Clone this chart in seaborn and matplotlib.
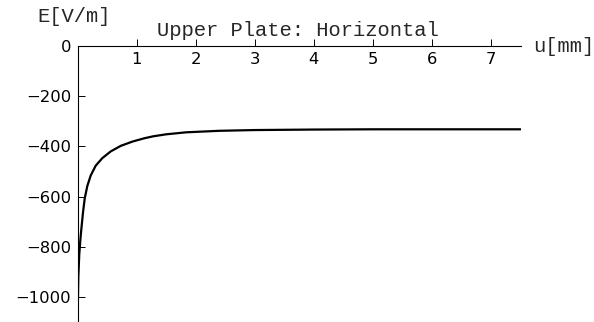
import matplotlib
matplotlib.use("Agg")
import matplotlib.pyplot as plt
from matplotlib.ticker import MultipleLocator
import seaborn as sns
import pandas as pd

# Field strength along the upper plate (horizontal component)
u_mm = [0.001, 0.005, 0.014, 0.03, 0.05, 0.064, 0.093, 0.122, 0.166, 0.224,
        0.308, 0.42, 0.563, 0.732, 0.929, 1.127, 1.28, 1.5, 1.84, 2.4, 3.0,
        4.0, 5.0, 6.0, 7.5]
e_vm = [-1130, -1040, -919, -830, -768, -732, -664, -608, -558, -516,
        -477, -447, -420, -398, -381, -368, -360, -352, -344, -338, -335,
        -333, -332, -332, -332]

x_ticks = [1, 2, 3, 4, 5, 6, 7]
y_ticks = [0, -200, -400, -600, -800, -1000]

sns.set_style("white")
plt.rcParams["font.family"] = ["DejaVu Sans"]

fig = plt.figure(figsize=(5.94, 3.22), dpi=100)
ax = fig.add_axes([77.5 / 594, 0.0, 443 / 594, 276 / 322])

df = pd.DataFrame({"u": u_mm, "E": e_vm})
sns.lineplot(data=df, x="u", y="E", ax=ax, color="black", linewidth=1.6,
             sort=False, estimator=None)

ax.set_xlim(0, 7.5)
ax.set_ylim(-1100, 0)
ax.set_xlabel("")
ax.set_ylabel("")

# Axes crossing at the origin
ax.spines["right"].set_visible(False)
ax.spines["top"].set_visible(False)
ax.spines["bottom"].set_position(("data", 0))
for s in ("left", "bottom"):
    ax.spines[s].set_linewidth(0.8)
    ax.spines[s].set_color("black")

ax.set_xticks(x_ticks)
ax.set_yticks(y_ticks)
ax.xaxis.set_minor_locator(MultipleLocator(0.2))
ax.yaxis.set_minor_locator(MultipleLocator(40))
ax.tick_params(axis="both", which="both", direction="in", colors="black",
               width=0.7, labelsize=11.8)
ax.tick_params(axis="both", which="major", length=5)
ax.tick_params(axis="both", which="minor", length=2.5)
ax.tick_params(axis="x", which="major", pad=4)
ax.tick_params(axis="y", which="major", pad=4.5)
ax.tick_params(axis="x", bottom=True, top=False)
ax.tick_params(axis="y", left=True, right=False)

mono = ["Liberation Mono", "DejaVu Sans Mono"]
fig.text(298 / 594, 1 - 30 / 322, "Upper Plate: Horizontal", family=mono,
         fontsize=14.8, ha="center", va="center")
fig.text(74 / 594, 1 - 17 / 322, "E[V/m]", family=mono, fontsize=14.8,
         ha="center", va="center")
fig.text(533 / 594, 1 - 46 / 322, "u[mm]", family=mono, fontsize=14.8,
         ha="left", va="center")

fig.savefig("out.png", dpi=100)
